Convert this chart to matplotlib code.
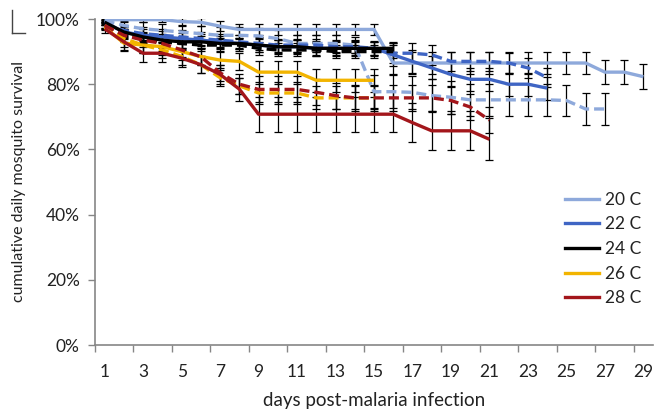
import matplotlib
matplotlib.use("Agg")
import matplotlib.pyplot as plt
from matplotlib.lines import Line2D
from matplotlib.ticker import FixedLocator, PercentFormatter

plt.rcParams['font.family'] = ['Lato', 'DejaVu Sans']

# ---------------- data (percent survival) ----------------
temps = ["20 C", "22 C", "24 C", "26 C", "28 C"]
colors = ["#8EA9DB", "#3F65C4", "#000000", "#F2B400", "#A3161B"]

s20_solid = [99.8, 99.8, 99.8, 99.8, 99.2, 99.0, 97.8, 96.8, 96.8, 96.8, 96.8, 96.8, 96.8, 96.8, 96.8,
             86.5, 86.5, 86.5, 86.5, 86.5, 86.5, 86.5, 86.5, 86.5, 86.5, 86.5, 83.7, 83.7, 82.3]
e20_solid = [0.5, 0.5, 0.8, 0.8, 1.2, 1.2, 1.5, 1.8, 1.8, 1.8, 1.8, 1.8, 1.8, 1.8, 1.8,
             3.4, 3.4, 3.4, 3.4, 3.4, 3.4, 3.4, 3.4, 3.4, 3.4, 3.4, 3.6, 3.6, 3.9]
s20_dash = [99.5, 98.0, 97.0, 96.5, 96.0, 95.5, 95.0, 95.0, 94.8, 94.0, 92.5, 92.5, 92.5, 92.0,
            77.7, 77.7, 77.5, 76.5, 76.0, 75.2, 75.2, 75.2, 75.2, 75.2, 75.0, 72.4, 72.4]
e20_dash = [0.5, 1.2, 2.0, 2.0, 2.2, 2.2, 2.5, 2.5, 2.5, 2.5, 2.5, 2.5, 2.5, 2.5,
            5.0, 5.0, 5.0, 5.0, 5.0, 5.0, 5.0, 5.0, 5.0, 5.0, 4.8, 5.0, 5.0]

s22_solid = [99.0, 96.0, 95.0, 94.5, 94.0, 93.5, 93.0, 92.5, 92.0, 91.5, 91.5, 91.0, 91.0, 91.0, 91.0,
             89.0, 87.0, 85.0, 83.0, 81.5, 81.5, 80.0, 80.0, 78.8]
e22_solid = [0.8, 1.8, 1.8, 1.8, 1.8, 1.8, 1.8, 1.8, 2.2, 2.2, 2.2, 2.2, 2.2, 2.2, 2.2,
             3.5, 3.5, 3.5, 3.5, 3.5, 3.5, 3.5, 3.5, 3.5]
s22_dash = [98.0, 96.5, 95.5, 95.0, 94.5, 94.0, 93.5, 93.0, 92.5, 92.0, 92.0, 92.0, 91.5, 91.5, 91.0,
            89.5, 89.5, 89.0, 87.0, 87.0, 87.0, 86.5, 85.0, 82.0]
e22_dash = [0.8, 1.8, 2.0, 2.0, 2.0, 2.0, 2.0, 2.0, 2.0, 2.0, 2.0, 2.0, 2.0, 2.0, 2.0,
            3.0, 3.0, 3.0, 3.0, 3.0, 3.0, 3.0, 3.0, 3.0]

s24_solid = [99.0, 96.0, 94.5, 93.5, 93.0, 93.0, 92.5, 92.5, 92.0, 91.5, 91.5, 91.0, 91.0, 91.0, 91.0, 91.0]
e24_solid = [0.8, 1.5, 1.5, 1.8, 1.8, 1.8, 1.8, 1.8, 2.0, 2.0, 2.0, 2.0, 2.0, 2.0, 2.0, 2.0]
s24_dash = [98.0, 95.5, 94.0, 93.0, 92.5, 92.0, 92.0, 92.0, 91.0, 90.5, 90.5, 90.5, 90.0, 90.0, 90.0, 90.0]
e24_dash = [0.8, 1.5, 1.5, 1.8, 1.8, 1.8, 1.8, 1.8, 2.0, 2.0, 2.0, 2.0, 2.0, 2.0, 2.0, 2.0]

s26_solid = [97.5, 92.6, 92.0, 91.5, 90.0, 88.5, 87.4, 87.0, 83.7, 83.7, 83.7, 81.2, 81.2, 81.2, 81.2]
e26_solid = [1.0, 2.5, 2.5, 2.5, 2.5, 2.5, 2.5, 2.5, 3.5, 3.5, 3.5, 3.5, 3.5, 3.5, 3.5]
s26_dash = [98.0, 94.0, 92.0, 90.5, 88.5, 86.0, 82.0, 79.5, 77.3, 77.3, 77.3, 75.8, 75.8, 75.8, 75.8]
e26_dash = [1.0, 2.5, 2.5, 2.5, 2.5, 2.5, 2.5, 2.5, 3.5, 3.5, 3.5, 3.5, 3.5, 3.5, 3.5]

s28_solid = [97.0, 93.0, 89.5, 89.5, 88.0, 86.0, 83.0, 78.5, 70.8, 70.8, 70.8, 70.8, 70.8, 70.8, 70.8, 70.8,
             68.2, 65.7, 65.7, 65.7, 63.1]
e28_solid = [1.2, 2.6, 2.6, 2.6, 2.6, 2.6, 3.0, 3.5, 5.4, 5.4, 5.4, 5.4, 5.4, 5.4, 5.4, 5.4,
             6.0, 6.0, 6.0, 6.0, 6.4]
s28_dash = [98.0, 95.0, 93.5, 92.5, 90.5, 88.4, 83.5, 80.0, 78.4, 78.4, 78.4, 77.5, 76.5, 75.8, 75.8,
            75.8, 75.8, 75.8, 75.0, 73.0, 69.0]
e28_dash = [1.0, 2.0, 2.2, 2.2, 2.2, 2.5, 2.5, 3.0, 4.0, 4.0, 4.0, 4.0, 4.0, 4.0, 4.0,
            4.0, 4.0, 4.0, 4.0, 4.0, 4.0]

series = [
    (s20_dash, e20_dash, 0, True), (s20_solid, e20_solid, 0, False),
    (s22_dash, e22_dash, 1, True), (s22_solid, e22_solid, 1, False),
    (s24_dash, e24_dash, 2, True), (s24_solid, e24_solid, 2, False),
    (s26_dash, e26_dash, 3, True), (s26_solid, e26_solid, 3, False),
    (s28_dash, e28_dash, 4, True), (s28_solid, e28_solid, 4, False),
]

x_labels = [str(d) for d in range(1, 30, 2)]

# ---------------- figure ----------------
fig = plt.figure(figsize=(6.56, 4.13), dpi=100)
ax = fig.add_axes([95 / 656, 1 - 345 / 413, 558 / 656, 326 / 413])

for vals, errs, ci, dashed in series:
    days = list(range(1, len(vals) + 1))
    frac = [v / 100 for v in vals]
    efrac = [e / 100 for e in errs]
    ax.errorbar(days, frac, yerr=efrac, fmt='none', ecolor='black',
                elinewidth=0.9, capsize=2.8, capthick=0.9, zorder=2)
    ln, = ax.plot(days, frac, color=colors[ci], lw=2.4, zorder=3,
                  solid_capstyle='butt')
    if dashed:
        ln.set_dashes((3.0, 1.5))

ax.set_xlim(0.5, 29.5)
ax.set_ylim(0, 1.0)

ax.yaxis.set_major_locator(FixedLocator([0, 0.2, 0.4, 0.6, 0.8, 1.0]))
ax.yaxis.set_major_formatter(PercentFormatter(1.0, decimals=0))
ax.set_xticks(list(range(1, 30, 2)))
ax.set_xticklabels(x_labels)
ax.xaxis.set_minor_locator(FixedLocator([0.5 + 2 * i for i in range(15)]))
ax.tick_params(axis='x', which='major', length=0, pad=14, labelsize=12.5, colors='#222222')
ax.tick_params(axis='x', which='minor', length=5, width=1, color='#868686', direction='out')
ax.tick_params(axis='y', which='major', length=5, width=1, color='#868686', direction='out',
               labelsize=12.5, labelcolor='#222222', pad=6)

for s in ['top', 'right']:
    ax.spines[s].set_visible(False)
for s in ['left', 'bottom']:
    ax.spines[s].set_color('#868686')
    ax.spines[s].set_linewidth(1.2)

ax.set_xlabel("days post-malaria infection", fontsize=13.5, color='#222222', labelpad=8)
fig.text(19 / 656, 1 - 182 / 413, "cumulative daily mosquito survival", rotation=90,
         ha='center', va='center', fontsize=11.5, color='#222222')

# small bracket artifact at top-left
fig.add_artist(Line2D([12 / 656, 12 / 656], [1 - 10 / 413, 1 - 33 / 413], color='#444444', lw=1))
fig.add_artist(Line2D([12 / 656, 25 / 656], [1 - 33 / 413, 1 - 33 / 413], color='#444444', lw=1))

handles = [Line2D([0], [0], color=c, lw=2.4) for c in colors]
leg = ax.legend(handles, temps, loc='upper left', bbox_to_anchor=(556 / 656, 1 - 183 / 413),
                bbox_transform=fig.transFigure, frameon=False, fontsize=12.5,
                handlelength=2.0, handletextpad=0.3, labelspacing=0.5, borderpad=0)
for t in leg.get_texts():
    t.set_color('#222222')

fig.savefig("out.png", dpi=100)
